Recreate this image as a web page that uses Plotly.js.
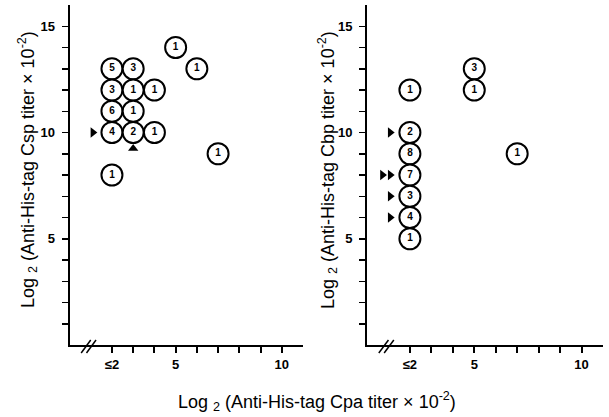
<!DOCTYPE html>
<html><head><meta charset="utf-8">
<script src="https://cdn.plot.ly/plotly-3.0.1.min.js"></script>
<style>html,body{margin:0;padding:0;background:#fff}#chart{width:609px;height:417px}</style>
</head><body><div id="chart"></div>
<script>
// Left panel: Csp vs Cpa (log2 titers), count of animals per point
const cspX = [2, 3, 2, 3, 4, 2, 3, 2, 3, 4, 2, 5, 6, 7];
const cspY = [13, 13, 12, 12, 12, 11, 11, 10, 10, 10, 8, 14, 13, 9];
const cspN = ['5', '3', '3', '1', '1', '6', '1', '4', '2', '1', '1', '1', '1', '1'];
// Right panel: Cbp vs Cpa
const cbpX = [5, 5, 2, 2, 2, 2, 2, 2, 2, 7];
const cbpY = [13, 12, 12, 10, 9, 8, 7, 6, 5, 9];
const cbpN = ['3', '1', '1', '2', '8', '7', '3', '4', '1', '1'];
// Arrowhead markers
const cspArrowRX = [1.1], cspArrowRY = [10];
const cspArrowUX = [3], cspArrowUY = [9.25];
const cbpArrowRX = [1.08, 0.72, 1.08, 1.08, 1.08], cbpArrowRY = [10, 8, 8, 7, 6];
// Tick definitions
const xTickVals = [2, 3, 4, 5, 6, 7, 8, 9, 10];
const xTickText = ['≤2', '', '', '5', '', '', '', '', '10'];
const yTickVals = [1,2,3,4,5,6,7,8,9,10,11,12,13,14,15];
const yTickText = ['','','','','5','','','','','10','','','','','15'];

const W = 609, H = 417;
const font = 'Liberation Sans, Arial, Helvetica, sans-serif';

function circles(x, y, n, xa, ya) {
  return {
    x: x, y: y, text: n, xaxis: xa, yaxis: ya, type: 'scatter', mode: 'markers+text',
    marker: {symbol: 'circle', size: 21, color: '#fff', line: {color: '#000', width: 2}},
    textposition: 'middle center',
    textfont: {family: font, size: 10, color: '#000', weight: 'bold'},
    hoverinfo: 'none', showlegend: false, cliponaxis: false
  };
}
function arrows(x, y, sym, xa, ya) {
  return {
    x: x, y: y, xaxis: xa, yaxis: ya, type: 'scatter', mode: 'markers',
    marker: {symbol: sym, size: 9, color: '#000'},
    hoverinfo: 'none', showlegend: false, cliponaxis: false
  };
}

const data = [
  circles(cspX, cspY, cspN, 'x', 'y'),
  arrows(cspArrowRX, cspArrowRY, 'triangle-right', 'x', 'y'),
  arrows(cspArrowUX, cspArrowUY, 'triangle-up', 'x', 'y'),
  circles(cbpX, cbpY, cbpN, 'x2', 'y2'),
  arrows(cbpArrowRX, cbpArrowRY, 'triangle-right', 'x2', 'y2')
];

const yDom = [(H - 345) / H, (H - 5) / H];
function xax(dom, anchor) {
  return {
    domain: dom, anchor: anchor, range: [0, 11], showgrid: false, zeroline: false,
    showline: true, linecolor: '#000', linewidth: 2,
    ticks: 'outside', ticklen: 6, tickwidth: 2, tickcolor: '#000',
    tickmode: 'array', tickvals: xTickVals, ticktext: xTickText,
    tickfont: {family: font, size: 13, color: '#000', weight: 'bold'}, fixedrange: true
  };
}
function yax(anchor) {
  return {
    domain: yDom, anchor: anchor, range: [0, 16], showgrid: false, zeroline: false,
    showline: true, linecolor: '#000', linewidth: 2,
    ticks: 'outside', ticklen: 6, tickwidth: 1.5, tickcolor: '#000',
    tickmode: 'array', tickvals: yTickVals, ticktext: yTickText, ticklabelstandoff: 4,
    tickfont: {family: font, size: 13, color: '#000', weight: 'bold'}, fixedrange: true
  };
}

function brk(xa) {
  return [0.55, 0.8].map(x0 => ({
    type: 'line', xref: xa, yref: 'paper',
    x0: x0, x1: x0 + 0.45, y0: (H - 353) / H, y1: (H - 340) / H,
    line: {color: '#000', width: 1.5}
  }));
}

const titleFont = {family: font, size: 18, color: '#000'};
const layout = {
  width: W, height: H, margin: {l: 0, r: 0, t: 0, b: 0},
  paper_bgcolor: '#fff', plot_bgcolor: '#fff',
  xaxis: xax([69.5 / W, 303 / W], 'y'),
  yaxis: yax('x'),
  xaxis2: xax([367 / W, 603 / W], 'y2'),
  yaxis2: yax('x2'),
  shapes: brk('x').concat(brk('x2')),
  annotations: [
    {text: 'Log <sub>2</sub> (Anti-His-tag Cpa titer × 10<sup>-2</sup>)', xref: 'paper', yref: 'paper',
     x: 317 / W, y: (H - 401) / H, xanchor: 'center', yanchor: 'middle', showarrow: false, font: titleFont},
    {text: 'Log <sub>2</sub> (Anti-His-tag Csp titer × 10<sup>-2</sup>)', xref: 'paper', yref: 'paper',
     x: 27 / W, y: (H - 170) / H, xanchor: 'center', yanchor: 'middle', textangle: -90, showarrow: false, font: titleFont},
    {text: 'Log <sub>2</sub> (Anti-His-tag Cbp titer × 10<sup>-2</sup>)', xref: 'paper', yref: 'paper',
     x: 327 / W, y: (H - 170) / H, xanchor: 'center', yanchor: 'middle', textangle: -90, showarrow: false, font: titleFont}
  ]
};
Plotly.newPlot('chart', data, layout, {displayModeBar: false, staticPlot: true});
</script></body></html>
